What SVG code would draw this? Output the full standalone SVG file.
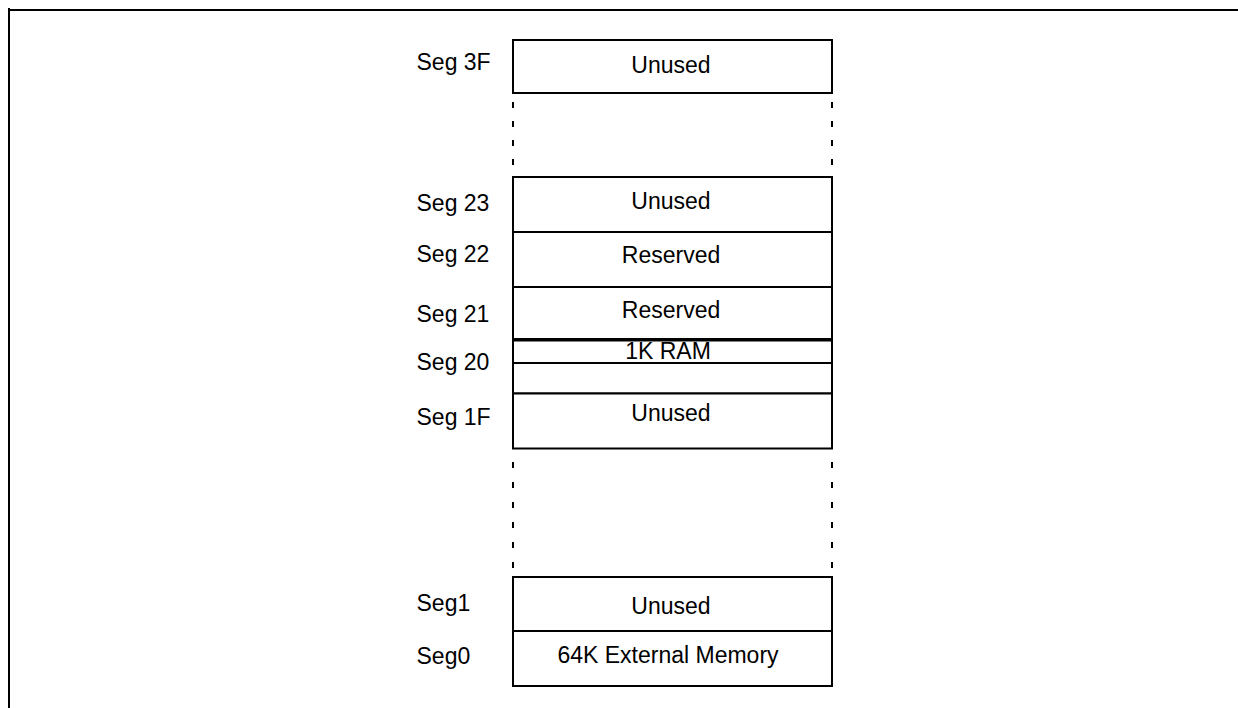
<svg xmlns="http://www.w3.org/2000/svg" width="1238" height="708" viewBox="0 0 1238 708">
<style>
.box{fill:#fff;stroke:#000;stroke-width:2}
.ln{stroke:#000;stroke-width:2;fill:none}
.dash{stroke:#000;stroke-width:2;fill:none}
text{font-family:"Liberation Sans",Arial,sans-serif;font-size:23px;fill:#000}
.c{text-anchor:middle}
</style>
<rect width="1238" height="708" fill="#fff"/>
<g id="frame">
<path class="ln" d="M9,8 V708 M8,10 H1238"/>
</g>
<g id="seg3F">
<rect class="box" x="513" y="40" width="319" height="53"/>
<text x="416.5" y="70">Seg 3F</text>
<text class="c" x="671" y="72.5">Unused</text>
</g>
<g id="seg23">
<rect class="box" x="513" y="177" width="319" height="55"/>
<text x="416.5" y="211">Seg 23</text>
<text class="c" x="671" y="208.5">Unused</text>
</g>
<g id="seg22">
<rect class="box" x="513" y="232" width="319" height="55"/>
<text x="416.5" y="262">Seg 22</text>
<text class="c" x="671" y="263">Reserved</text>
</g>
<g id="seg21">
<rect class="box" x="513" y="287" width="319" height="52"/>
<text x="416.5" y="322">Seg 21</text>
<text class="c" x="671" y="317.5">Reserved</text>
</g>
<g id="seg20">
<rect class="box" x="513" y="340.5" width="319" height="53"/>
<line class="ln" x1="513" y1="363" x2="832" y2="363"/>
<text x="416.5" y="370">Seg 20</text>
<text class="c" x="668" y="358.5">1K RAM</text>
</g>
<g id="seg1F">
<rect class="box" x="513" y="393.5" width="319" height="55"/>
<text x="416.5" y="425">Seg 1F</text>
<text class="c" x="671" y="420.5">Unused</text>
</g>
<g id="seg1">
<rect class="box" x="513" y="577" width="319" height="54"/>
<text x="416.5" y="610.5">Seg1</text>
<text class="c" x="671" y="613.5">Unused</text>
</g>
<g id="seg0">
<rect class="box" x="513" y="631" width="319" height="55"/>
<text x="416.5" y="664">Seg0</text>
<text class="c" x="668" y="662.5">64K External Memory</text>
</g>
<g id="connectors">
<path class="dash" stroke-dasharray="6 13" d="M513,102 V166 M832,102 V166"/>
<path class="dash" stroke-dasharray="6 14" d="M513,462 V568 M832,462 V568"/>
</g>
</svg>
